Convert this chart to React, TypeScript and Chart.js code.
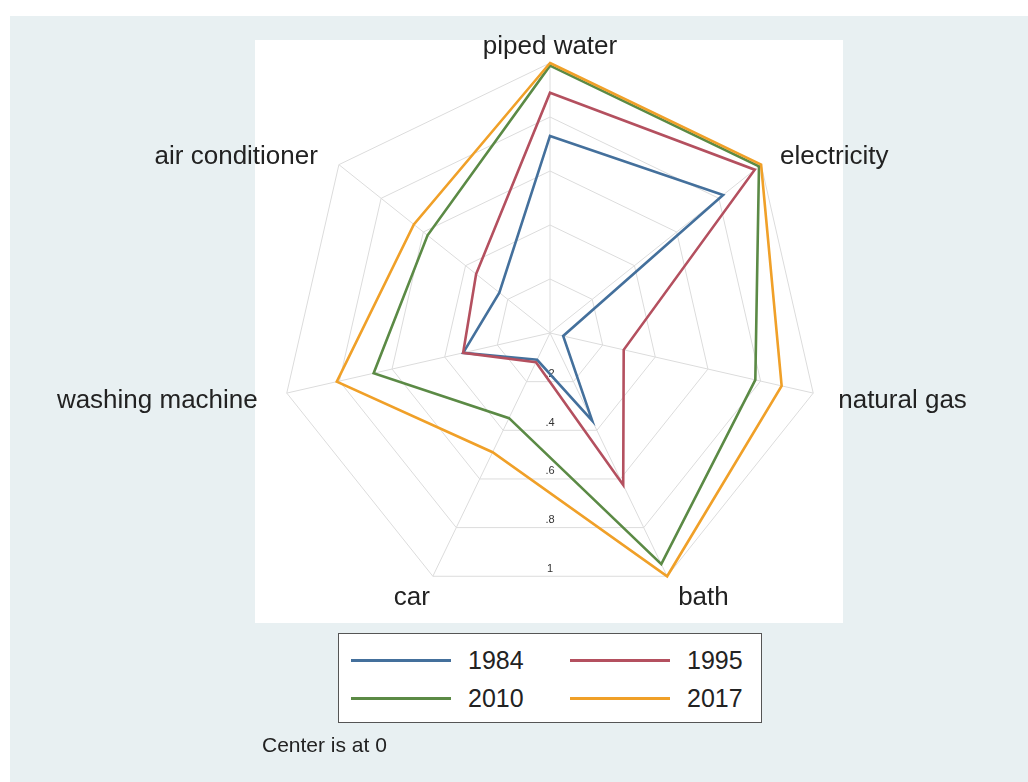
import React, { useEffect, useRef } from 'react';
import { Chart, registerables } from 'chart.js';

Chart.register(...registerables);

// ---- data ----
const CATEGORIES = ['piped water', 'electricity', 'natural gas', 'bath', 'car', 'washing machine', 'air conditioner'];
const SERIES_NAMES = ['1984', '1995', '2010', '2017'];
const V1984 = [0.73, 0.82, 0.05, 0.36, 0.11, 0.33, 0.24];
const V1995 = [0.89, 0.97, 0.28, 0.625, 0.12, 0.33, 0.35];
const V2010 = [0.99, 0.99, 0.78, 0.95, 0.35, 0.67, 0.58];
const V2017 = [1.0, 1.0, 0.88, 1.0, 0.49, 0.81, 0.645];
const TICK_VALUES = [0.2, 0.4, 0.6, 0.8, 1];
const TICK_LABELS = ['.2', '.4', '.6', '.8', '1'];
const NOTE = 'Center is at 0';

const COLORS = ['#44709c', '#b4505f', '#5b8a45', '#f0a028'];
const FONT = "'Liberation Sans', Arial, Helvetica, sans-serif";
const TEXT = '#222222';

// label placement relative to each outer vertex: [dx, dy, align]
const LABEL_PLACE: [number, number, CanvasTextAlign][] = [
  [0, -16, 'center'],
  [19, -8, 'left'],
  [25, 8, 'left'],
  [11, 22, 'left'],
  [-3, 22, 'right'],
  [-29, 8, 'right'],
  [-21, -8, 'right'],
];

const radarText = {
  id: 'radarText',
  beforeDatasetsDraw(chart: any) {
    const s = chart.scales.r;
    const ctx = chart.ctx;
    ctx.save();
    ctx.font = `11px ${FONT}`;
    ctx.fillStyle = '#333';
    ctx.textAlign = 'center';
    ctx.textBaseline = 'bottom';
    const n = CATEGORIES.length;
    const a = Math.floor(n / 2);
    TICK_VALUES.forEach((v, i) => {
      const d = s.getDistanceFromCenterForValue(v);
      const p1 = s.getPointPosition(a, d);
      const p2 = s.getPointPosition(a + 1, d);
      const y = (p1.y + p2.y) / 2;
      ctx.fillText(TICK_LABELS[i], s.xCenter, y - 2);
    });
    ctx.restore();
  },
  afterDraw(chart: any) {
    const s = chart.scales.r;
    const ctx = chart.ctx;
    ctx.save();
    ctx.font = `26px ${FONT}`;
    ctx.fillStyle = TEXT;
    ctx.textBaseline = 'middle';
    const d = s.getDistanceFromCenterForValue(1);
    CATEGORIES.forEach((c, i) => {
      const p = s.getPointPosition(i, d);
      const [dx, dy, al] = LABEL_PLACE[i];
      ctx.textAlign = al;
      ctx.fillText(c, p.x + dx, p.y + dy);
    });
    ctx.restore();
  },
};

export default function App() {
  const ref = useRef<HTMLCanvasElement>(null);

  useEffect(() => {
    if (!ref.current) return;
    const series = [V1984, V1995, V2010, V2017];
    const chart = new Chart(ref.current, {
      type: 'radar',
      data: {
        labels: CATEGORIES,
        datasets: series.map((vals, i) => ({
          label: SERIES_NAMES[i],
          data: vals,
          borderColor: COLORS[i],
          backgroundColor: COLORS[i],
          borderWidth: 2.6,
          fill: false,
          pointRadius: 0,
          tension: 0,
          order: series.length - i,
        })),
      },
      options: {
        responsive: false,
        animation: false,
        devicePixelRatio: 1,
        layout: { padding: { left: 280, right: 208, top: 63, bottom: 179 } },
        plugins: { legend: { display: false }, tooltip: { enabled: false } },
        scales: {
          r: {
            min: 0,
            max: 1,
            ticks: { display: false, stepSize: 0.2 },
            grid: { color: '#dcdcdc', lineWidth: 1 },
            angleLines: { color: '#dcdcdc', lineWidth: 1 },
            pointLabels: { display: false },
          },
        },
      },
      plugins: [radarText],
    });
    return () => chart.destroy();
  }, []);

  const legendRows = [[0, 1], [2, 3]];
  const cols = [351, 570];
  const rowsY = [660, 698];

  return (
    <div style={{ position: 'fixed', left: 0, top: 0, width: 1028, height: 782, background: '#ffffff', overflow: 'hidden', fontFamily: FONT }}>
      <div style={{ position: 'absolute', left: 10, top: 16, width: 1018, height: 766, background: '#e8f0f2' }} />
      <div style={{ position: 'absolute', left: 255, top: 40, width: 588, height: 583, background: '#ffffff' }} />
      <canvas ref={ref} width={1028} height={782} style={{ position: 'absolute', left: 0, top: 0, width: 1028, height: 782 }} />
      <div style={{ position: 'absolute', left: 338, top: 633, width: 422, height: 88, background: '#ffffff', border: '1px solid #555' }} />
      {legendRows.map((row, r) =>
        row.map((si, c) => (
          <React.Fragment key={si}>
            <div style={{ position: 'absolute', left: cols[c], top: rowsY[r] - 1.5, width: 100, height: 3, background: COLORS[si] }} />
            <div style={{ position: 'absolute', left: cols[c] + 117, top: rowsY[r] - 15, height: 30, lineHeight: '30px', fontSize: 25, color: TEXT, whiteSpace: 'nowrap' }}>
              {SERIES_NAMES[si]}
            </div>
          </React.Fragment>
        ))
      )}
      <div style={{ position: 'absolute', left: 262, top: 745 - 13, height: 26, lineHeight: '26px', fontSize: 21, color: TEXT, whiteSpace: 'nowrap' }}>
        {NOTE}
      </div>
    </div>
  );
}
